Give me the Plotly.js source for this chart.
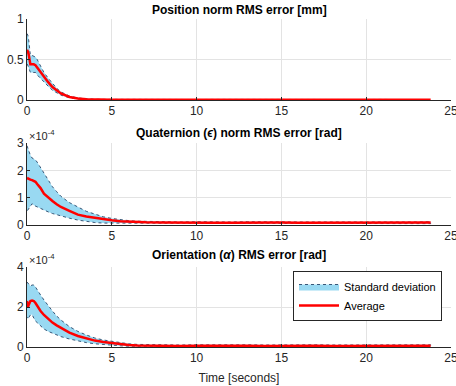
<!DOCTYPE html>
<html>
<head>
<meta charset="utf-8">
<script src="https://cdn.plot.ly/plotly-3.0.1.min.js"></script>
<style>html,body{margin:0;padding:0;background:#fff;}#chart{width:456px;height:386px;}</style>
</head>
<body>
<div id="chart"></div>
<script>
// Time axis [seconds]
const time = [0,0.05,0.1,0.2,0.3,0.4,0.5,0.6,0.8,1.0,1.25,1.5,1.75,2.0,2.5,3.0,3.5,4.0,4.5,5.0,5.5,6.0,6.5,7.0,8,9,10,11,12,13,14,15,16,17,18,19,20,21,22,23,23.8];

// Position norm RMS error [mm]
const posMean  = [0.62,0.60,0.56,0.44,0.44,0.44,0.43,0.40,0.34,0.28,0.22,0.16,0.115,0.08,0.038,0.018,0.010,0.006,0.005,0.004,0.004,0.003,0.004,0.003,0.003,0.004,0.003,0.004,0.003,0.003,0.004,0.003,0.004,0.003,0.003,0.004,0.003,0.004,0.003,0.003,0.004];
const posUpper = [0.82,0.80,0.74,0.55,0.55,0.54,0.53,0.50,0.42,0.34,0.27,0.20,0.145,0.10,0.05,0.025,0.014,0.009,0.008,0.007,0.007,0.006,0.007,0.006,0.006,0.007,0.006,0.007,0.006,0.006,0.007,0.006,0.007,0.006,0.006,0.007,0.006,0.007,0.006,0.006,0.007];
const posLower = [0.45,0.42,0.40,0.34,0.34,0.34,0.34,0.31,0.26,0.22,0.17,0.12,0.085,0.06,0.027,0.012,0.006,0.003,0.002,0.001,0.001,0.001,0.001,0.001,0.001,0.001,0.001,0.001,0.001,0.001,0.001,0.001,0.001,0.001,0.001,0.001,0.001,0.001,0.001,0.001,0.001];

// Quaternion (eps) norm RMS error [rad], in units of 1e-4
const quatMean  = [1.72,1.70,1.68,1.66,1.64,1.62,1.58,1.50,1.35,1.15,1.0,0.88,0.76,0.66,0.52,0.38,0.31,0.26,0.21,0.17,0.14,0.12,0.11,0.10,0.09,0.08,0.09,0.08,0.08,0.09,0.08,0.09,0.08,0.08,0.09,0.08,0.08,0.09,0.08,0.08,0.09];
const quatUpper = [2.9,2.8,2.7,2.55,2.45,2.42,2.38,2.3,2.1,1.9,1.6,1.4,1.22,1.05,0.82,0.65,0.5,0.4,0.3,0.24,0.19,0.16,0.14,0.13,0.12,0.11,0.12,0.11,0.11,0.12,0.11,0.12,0.11,0.11,0.12,0.11,0.11,0.12,0.11,0.11,0.12];
const quatLower = [0.5,0.55,0.6,0.7,0.78,0.72,0.68,0.65,0.6,0.55,0.48,0.42,0.37,0.33,0.25,0.18,0.13,0.09,0.07,0.06,0.05,0.05,0.05,0.05,0.05,0.05,0.05,0.05,0.05,0.05,0.05,0.05,0.05,0.05,0.05,0.05,0.05,0.05,0.05,0.05,0.05];

// Orientation (alpha) RMS error [rad], in units of 1e-4
const oriMean  = [2.3,2.0,2.1,2.3,2.32,2.3,2.2,2.05,1.8,1.6,1.4,1.22,1.08,0.95,0.72,0.55,0.42,0.32,0.25,0.19,0.15,0.10,0.08,0.07,0.06,0.05,0.06,0.07,0.05,0.06,0.05,0.06,0.05,0.06,0.05,0.05,0.06,0.05,0.06,0.05,0.06];
const oriUpper = [3.25,3.2,3.1,3.05,3.1,3.1,3.0,2.85,2.6,2.35,2.05,1.8,1.55,1.35,1.02,0.78,0.6,0.45,0.35,0.28,0.22,0.16,0.13,0.12,0.11,0.10,0.11,0.12,0.10,0.11,0.10,0.11,0.10,0.11,0.10,0.10,0.11,0.10,0.11,0.10,0.11];
const oriLower = [1.5,1.4,1.45,1.6,1.62,1.45,1.3,1.2,1.05,0.9,0.78,0.68,0.6,0.52,0.4,0.3,0.22,0.16,0.12,0.09,0.06,0.04,0.03,0.02,0.01,0.02,0.01,0.01,0.02,0.01,0.01,0.02,0.01,0.01,0.02,0.01,0.01,0.02,0.01,0.01,0.02];

const titles = ['Position norm RMS error [mm]', 'Quaternion (<i>ϵ</i>) norm RMS error [rad]', 'Orientation (<i>α</i>) RMS error [rad]'];
const legendNames = ['Standard deviation', 'Average'];
const xLabel = 'Time [seconds]';

const FONT = 'Liberation Sans, Arial, Helvetica, sans-serif';
const BAND = 'rgb(153,217,242)';
const EDGE = 'rgb(40,70,105)';
const RED = 'rgb(255,0,0)';
const TXT = '#262626';

const series = [
  {mean: posMean, up: posUpper, lo: posLower},
  {mean: quatMean, up: quatUpper, lo: quatLower},
  {mean: oriMean, up: oriUpper, lo: oriLower}
];

const traces = [];
series.forEach((s, i) => {
  const ax = i === 0 ? '' : String(i + 1);
  const showLeg = i === 2;
  traces.push({
    x: time.concat(time.slice().reverse()),
    y: s.up.concat(s.lo.slice().reverse()),
    type: 'scatter', mode: 'lines', fill: 'toself', fillcolor: BAND,
    line: {color: EDGE, width: 0.9, dash: 'dot'},
    name: legendNames[0], showlegend: showLeg,
    xaxis: 'x' + ax, yaxis: 'y' + ax, hoverinfo: 'skip'
  });
  traces.push({
    x: time, y: s.mean, type: 'scatter', mode: 'lines',
    line: {color: RED, width: 2.5},
    name: legendNames[1], showlegend: showLeg,
    xaxis: 'x' + ax, yaxis: 'y' + ax
  });
});

const H = 386, L = 27, W = 424;
const dom = (top, bottom) => [(H - bottom) / H, (H - top) / H];

const xBase = {
  range: [0, 25], tickvals: [0, 5, 10, 15, 20, 25], ticks: 'inside', ticklen: 3,
  tickcolor: TXT, showline: true, linecolor: TXT, linewidth: 1,
  showgrid: true, gridcolor: '#e3e3e3', gridwidth: 1, zeroline: false,
  ticklabeloverflow: 'allow',
  tickfont: {family: FONT, size: 12, color: TXT}, domain: [0, 1]
};
const yBase = {
  ticks: 'inside', ticklen: 3, tickcolor: TXT, showline: true,
  linecolor: TXT, linewidth: 1, showgrid: true, gridcolor: '#e3e3e3',
  zeroline: false, ticklabeloverflow: 'allow', tickfont: {family: FONT, size: 12, color: TXT}
};

const titleFont = {family: FONT, size: 12, color: '#000'};

const layout = {
  width: 456, height: 386,
  margin: {l: L, r: 5, t: 0, b: 0},
  paper_bgcolor: '#fff', plot_bgcolor: '#fff',
  font: {family: FONT, size: 11, color: TXT},
  xaxis: Object.assign({}, xBase, {anchor: 'y'}),
  yaxis: Object.assign({}, yBase, {range: [0, 1], tickvals: [0, 0.5, 1], domain: dom(19, 100), anchor: 'x'}),
  xaxis2: Object.assign({}, xBase, {anchor: 'y2'}),
  yaxis2: Object.assign({}, yBase, {range: [0, 3], tickvals: [0, 1, 2, 3], domain: dom(143, 225), anchor: 'x2'}),
  xaxis3: Object.assign({}, xBase, {anchor: 'y3', title: {text: xLabel, font: {family: FONT, size: 12, color: TXT}, standoff: 9}}),
  yaxis3: Object.assign({}, yBase, {range: [0, 4], tickvals: [0, 2, 4], domain: dom(267, 347), anchor: 'x3'}),
  showlegend: true,
  legend: {
    x: (293 - L) / W, y: (H - 271) / H, xanchor: 'left', yanchor: 'top',
    bgcolor: '#fff', bordercolor: TXT, borderwidth: 1,
    font: {family: FONT, size: 11, color: '#000'}, itemwidth: 40,
    tracegroupgap: 0
  },
  annotations: [
    {text: '<b>' + titles[0] + '</b>', xref: 'paper', yref: 'paper', x: 0.5, y: (H - 10) / H, xanchor: 'center', yanchor: 'middle', showarrow: false, font: titleFont},
    {text: '<b>' + titles[1] + '</b>', xref: 'paper', yref: 'paper', x: 0.5, y: (H - 133) / H, xanchor: 'center', yanchor: 'middle', showarrow: false, font: titleFont},
    {text: '<b>' + titles[2] + '</b>', xref: 'paper', yref: 'paper', x: 0.5, y: (H - 255) / H, xanchor: 'center', yanchor: 'middle', showarrow: false, font: titleFont},
    {text: '×10<sup>-4</sup>', xref: 'paper', yref: 'paper', x: 0, y: (H - 135) / H, xanchor: 'left', yanchor: 'middle', showarrow: false, font: {family: FONT, size: 11, color: TXT}},
    {text: '×10<sup>-4</sup>', xref: 'paper', yref: 'paper', x: 0, y: (H - 259) / H, xanchor: 'left', yanchor: 'middle', showarrow: false, font: {family: FONT, size: 11, color: TXT}}
  ]
};

Plotly.newPlot('chart', traces, layout, {staticPlot: true, displayModeBar: false});
</script>
</body>
</html>
